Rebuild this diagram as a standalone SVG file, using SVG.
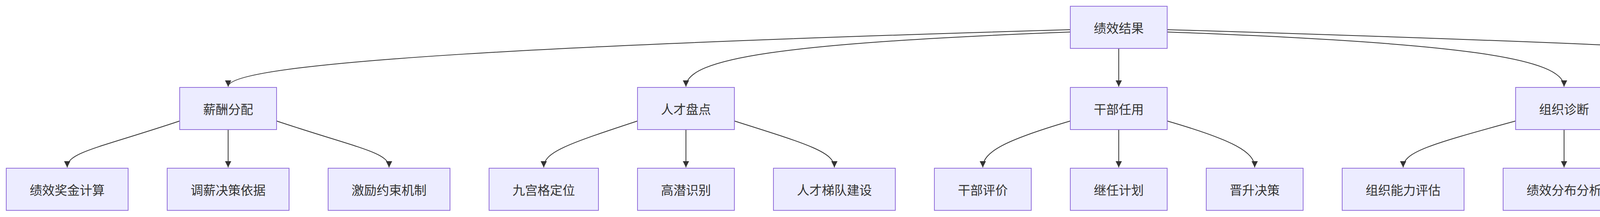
<svg xmlns="http://www.w3.org/2000/svg" width="5856" height="556" viewBox="0 0 5856 556">
<style>
.n rect{fill:#ECECFF;stroke:#9370DB;stroke-width:2}
.n text{fill:#333;font-family:"Noto Sans CJK SC","Noto Sans",sans-serif;font-size:32px;text-anchor:middle;dominant-baseline:central}
.e path{fill:none;stroke:#333;stroke-width:2;marker-end:url(#a)}
</style>
<defs><marker id="a" viewBox="0 0 10 10" refX="10" refY="5" markerWidth="8" markerHeight="8" orient="auto"><path d="M0,0L10,5L0,10z" fill="#333"/></marker></defs>
<rect width="5856" height="556" fill="#fff"/>
<g class="e">
<path d="M2740,76 C1400,115 584,160 584,222"/>
<path d="M2740,82 C2000,110 1756,150 1756,222"/>
<path d="M2864,124 L2864,222"/>
<path d="M2988,82 C3750,110 4004,150 4004,222"/>
<path d="M2988,76 C4300,115 5256,160 5256,222"/>
<path d="M460,310 C250,380 172,390 172,429"/>
<path d="M584,332 L584,429"/>
<path d="M708,310 C918,380 996,390 996,429"/>
<path d="M1632,310 C1450,370 1392,390 1392,429"/>
<path d="M1756,332 L1756,429"/>
<path d="M1880,310 C2070,370 2136,390 2136,429"/>
<path d="M2740,310 C2570,360 2516,390 2516,429"/>
<path d="M2864,332 L2864,429"/>
<path d="M2988,310 C3160,360 3212,390 3212,429"/>
<path d="M3880,310 C3660,370 3592,390 3592,429"/>
<path d="M4004,332 L4004,429"/>
<path d="M4128,310 C4340,370 4416,390 4416,429"/>
<path d="M5132,310 C4900,370 4828,390 4828,429"/>
<path d="M5256,332 L5256,429"/>
<path d="M5380,310 C5610,370 5684,390 5684,429"/>
</g>
<g id="root" class="n"><rect x="2740" y="16" width="248" height="108"/><text x="2864" y="70">绩效结果</text></g>
<g id="A" class="n"><rect x="460" y="224" width="248" height="108"/><text x="584" y="278">薪酬分配</text></g>
<g id="B" class="n"><rect x="1632" y="224" width="248" height="108"/><text x="1756" y="278">人才盘点</text></g>
<g id="C" class="n"><rect x="2740" y="224" width="248" height="108"/><text x="2864" y="278">干部任用</text></g>
<g id="D" class="n"><rect x="3880" y="224" width="248" height="108"/><text x="4004" y="278">组织诊断</text></g>
<g id="E" class="n"><rect x="5132" y="224" width="248" height="108"/><text x="5256" y="278">经营复盘</text></g>
<g id="A1" class="n"><rect x="16" y="431" width="312" height="108"/><text x="172" y="485">绩效奖金计算</text></g>
<g id="A2" class="n"><rect x="428" y="431" width="312" height="108"/><text x="584" y="485">调薪决策依据</text></g>
<g id="A3" class="n"><rect x="840" y="431" width="312" height="108"/><text x="996" y="485">激励约束机制</text></g>
<g id="B1" class="n"><rect x="1252" y="431" width="280" height="108"/><text x="1392" y="485">九宫格定位</text></g>
<g id="B2" class="n"><rect x="1632" y="431" width="248" height="108"/><text x="1756" y="485">高潜识别</text></g>
<g id="B3" class="n"><rect x="1980" y="431" width="312" height="108"/><text x="2136" y="485">人才梯队建设</text></g>
<g id="C1" class="n"><rect x="2392" y="431" width="248" height="108"/><text x="2516" y="485">干部评价</text></g>
<g id="C2" class="n"><rect x="2740" y="431" width="248" height="108"/><text x="2864" y="485">继任计划</text></g>
<g id="C3" class="n"><rect x="3088" y="431" width="248" height="108"/><text x="3212" y="485">晋升决策</text></g>
<g id="D1" class="n"><rect x="3436" y="431" width="312" height="108"/><text x="3592" y="485">组织能力评估</text></g>
<g id="D2" class="n"><rect x="3848" y="431" width="312" height="108"/><text x="4004" y="485">绩效分布分析</text></g>
<g id="D3" class="n"><rect x="4260" y="431" width="312" height="108"/><text x="4416" y="485">改进方向识别</text></g>
<g id="E1" class="n"><rect x="4672" y="431" width="312" height="108"/><text x="4828" y="485">目标达成分析</text></g>
<g id="E2" class="n"><rect x="5084" y="431" width="344" height="108"/><text x="5256" y="485">策略有效性评估</text></g>
<g id="E3" class="n"><rect x="5528" y="431" width="312" height="108"/><text x="5684" y="485">资源配置优化</text></g>
</svg>
